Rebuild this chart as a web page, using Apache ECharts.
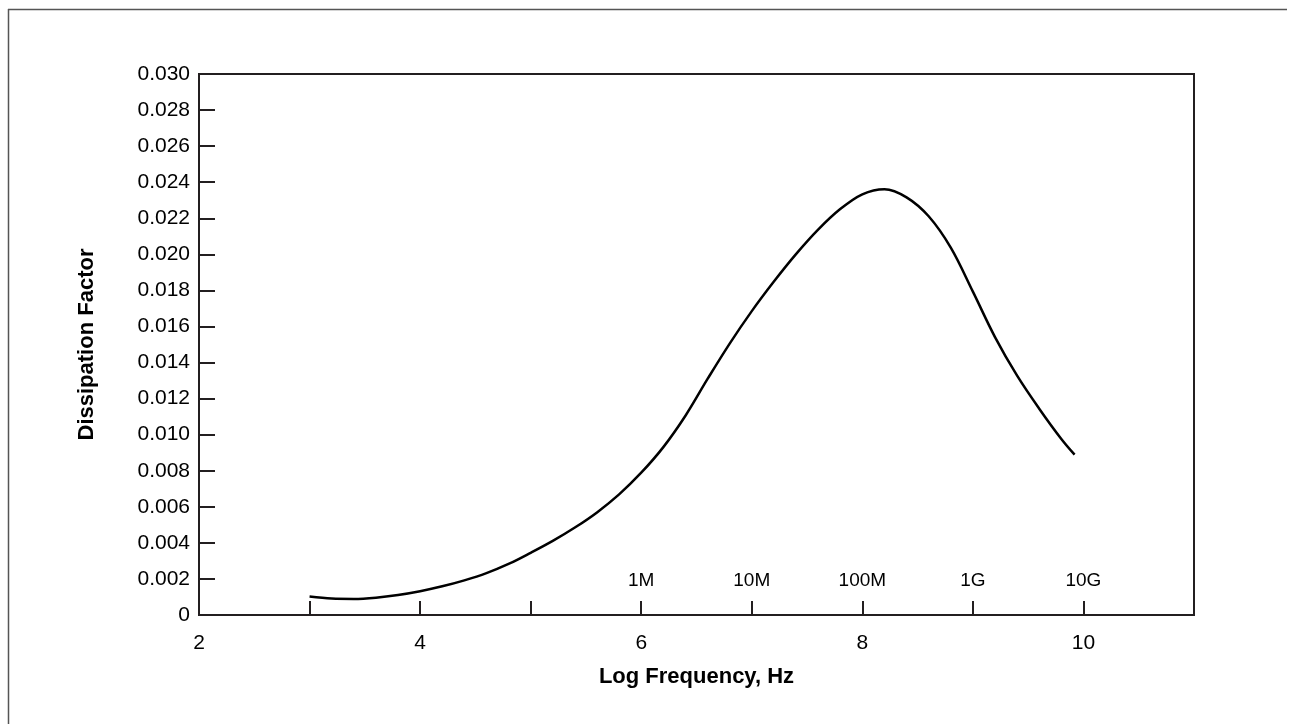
<!DOCTYPE html>
<html>
<head>
<meta charset="utf-8">
<script src="https://cdn.jsdelivr.net/npm/echarts@6/dist/echarts.min.js"></script>
<style>html,body{margin:0;padding:0;background:#fff;}#c{width:1295px;height:724px;}</style>
</head>
<body>
<div id="c"></div>
<script>
// Data
const logFreq = [3.0, 3.2, 3.4, 3.6, 3.8, 4.0, 4.2, 4.4, 4.6, 4.8, 5.0, 5.2, 5.4, 5.6, 5.8, 6.0, 6.2, 6.4, 6.6, 6.8, 7.0, 7.2, 7.4, 7.6, 7.8, 8.0, 8.2, 8.4, 8.6, 8.8, 9.0, 9.2, 9.4, 9.6, 9.8, 9.92];
const dissipation = [0.00102, 0.00091, 0.00089, 0.00096, 0.00111, 0.00132, 0.00159, 0.00192, 0.00232, 0.00283, 0.00345, 0.00411, 0.00485, 0.00569, 0.00669, 0.00789, 0.00931, 0.01105, 0.01309, 0.01505, 0.01685, 0.01849, 0.02001, 0.02137, 0.02251, 0.02333, 0.02361, 0.02316, 0.02211, 0.02037, 0.01793, 0.01541, 0.01327, 0.01144, 0.00976, 0.00889];
const freqLabelX = [6, 7, 8, 9, 10];
const freqLabels = ['1M', '10M', '100M', '1G', '10G'];
const freqLabelY = 0.0019;
const xTickLabels = ['2', '4', '6', '8', '10'];

const axisColor = '#231f20';
const fontFam = '"Liberation Sans", Arial, sans-serif';

const chart = echarts.init(document.getElementById('c'));
chart.setOption({
  backgroundColor: '#fff',
  animation: false,
  grid: { left: 199, right: 101, top: 74, bottom: 109, show: true, borderColor: axisColor, borderWidth: 2, backgroundColor: 'transparent' },
  graphic: [
    { type: 'line', shape: { x1: 8, y1: 9.5, x2: 1287, y2: 9.5 }, style: { stroke: '#555', lineWidth: 1.5 } },
    { type: 'line', shape: { x1: 8.5, y1: 9, x2: 8.5, y2: 724 }, style: { stroke: '#555', lineWidth: 1.5 } }
  ],
  xAxis: {
    type: 'value', min: 2, max: 11, interval: 1,
    name: 'Log Frequency, Hz', nameLocation: 'middle', nameGap: 51,
    nameTextStyle: { fontFamily: fontFam, fontWeight: 'bold', fontSize: 22, color: '#000' },
    axisLine: { lineStyle: { color: axisColor, width: 2 } },
    axisTick: { show: true, inside: true, length: 14, lineStyle: { color: axisColor, width: 2 } },
    axisLabel: { margin: 18, fontFamily: fontFam, fontSize: 21, color: '#000',
      formatter: v => xTickLabels.includes(String(v)) ? String(v) : '' },
    splitLine: { show: false }
  },
  yAxis: {
    type: 'value', min: 0, max: 0.03, interval: 0.002,
    name: 'Dissipation Factor', nameLocation: 'middle', nameGap: 101, nameRotate: 90,
    nameTextStyle: { fontFamily: fontFam, fontWeight: 'bold', fontSize: 22, color: '#000' },
    axisLine: { lineStyle: { color: axisColor, width: 2 } },
    axisTick: { show: true, inside: true, length: 16, lineStyle: { color: axisColor, width: 2 } },
    axisLabel: { margin: 9, fontFamily: fontFam, fontSize: 21, color: '#000',
      formatter: v => Math.abs(v) < 1e-9 ? '0' : v.toFixed(3) },
    splitLine: { show: false }
  },
  series: [
    {
      type: 'line', data: logFreq.map((x, i) => [x, dissipation[i]]),
      smooth: 0.35, showSymbol: false, symbol: 'none',
      lineStyle: { color: '#000', width: 2.5 }
    },
    {
      type: 'scatter', symbolSize: 1, itemStyle: { opacity: 0 },
      data: freqLabelX.map((x, i) => [x, freqLabelY, freqLabels[i]]),
      label: { show: true, position: 'inside', formatter: p => p.value[2],
        fontFamily: fontFam, fontSize: 19, color: '#000', opacity: 1,
        textBorderWidth: 0, textBorderColor: 'transparent' },
      silent: true
    }
  ]
});
</script>
</body>
</html>
